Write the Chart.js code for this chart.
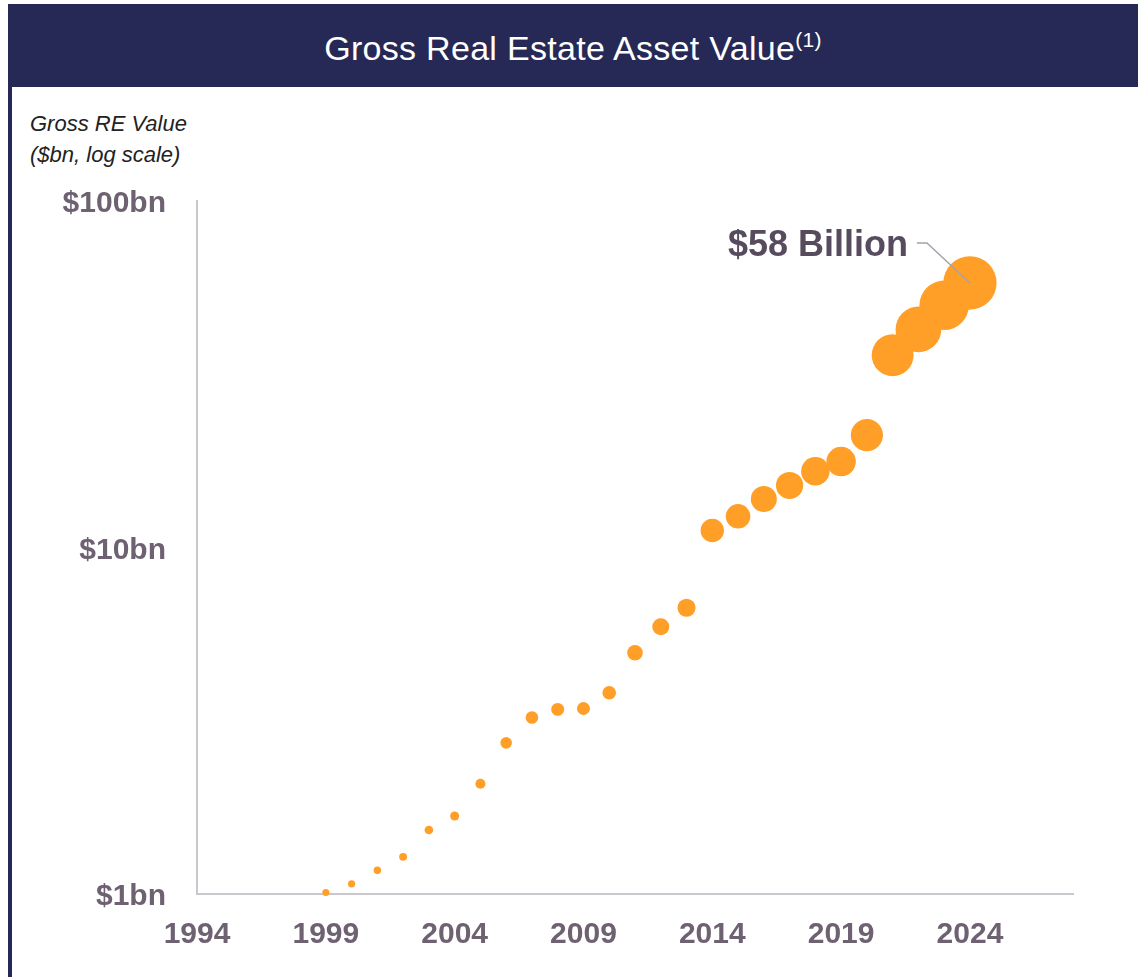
<!DOCTYPE html>
<html>
<head>
<meta charset="utf-8">
<script src="https://cdn.jsdelivr.net/npm/chart.js@4.4.1/dist/chart.umd.min.js"></script>
<style>
  body { margin: 0; width: 1138px; height: 977px; background: #fff; position: relative; overflow: hidden;
         font-family: "Liberation Sans", Arial, sans-serif; }
  #header { position: absolute; left: 8px; top: 4px; width: 1130px; height: 83px; background: #262855;
            color: #fff; font-size: 34px; text-align: center; line-height: 88px; letter-spacing: 0.3px; }
  #header sup { font-size: 21px; vertical-align: 13px; line-height: 0; }
  #leftline { position: absolute; left: 8px; top: 4px; width: 4px; height: 973px; background: #262855; }
  #ytitle { position: absolute; left: 30px; top: 108px; font-style: italic; font-size: 22px;
            line-height: 31px; color: #222; }
  #wrap { position: absolute; left: 0; top: 0; }
</style>
</head>
<body>
<div id="header">Gross Real Estate Asset Value<sup>(1)</sup></div>
<div id="leftline"></div>
<div id="ytitle">Gross RE Value<br>($bn, log scale)</div>
<div id="wrap"><canvas id="chart" width="1138" height="977"></canvas></div>
<script>
const years = [1999, 2000, 2001, 2002, 2003, 2004, 2005, 2006, 2007, 2008, 2009, 2010, 2011,
  2012, 2013, 2014, 2015, 2016, 2017, 2018, 2019, 2020, 2021, 2022, 2023, 2024];
const grossValue = [1.01, 1.07, 1.17, 1.28, 1.53, 1.68, 2.08, 2.73, 3.23, 3.41, 3.43, 3.81, 4.97,
  5.91, 6.7, 11.2, 12.3, 13.8, 15.1, 16.6, 17.7, 21.1, 35.9, 42.6, 50.0, 58.0];
const xTicks = [1994, 1999, 2004, 2009, 2014, 2019, 2024];
const yTicks = [1, 10, 100];
const calloutText = "$58 Billion";

const ctx = document.getElementById("chart").getContext("2d");
const tickFont = { family: "'Liberation Sans', Arial, sans-serif", size: 30, weight: "bold" };

// leader line + label for the latest point
const callout = {
  id: "callout",
  afterDatasetsDraw(chart) {
    const meta = chart.getDatasetMeta(0);
    const pt = meta.data[meta.data.length - 1];
    const c = chart.ctx;
    c.save();
    c.strokeStyle = "#A7A1AE";
    c.lineWidth = 1.5;
    c.beginPath();
    c.moveTo(pt.x, pt.y);
    c.lineTo(pt.x - 43, pt.y - 40);
    c.lineTo(pt.x - 53, pt.y - 40);
    c.stroke();
    c.fillStyle = "#574B5E";
    c.font = "bold 36px 'Liberation Sans', Arial, sans-serif";
    c.textAlign = "right";
    c.textBaseline = "middle";
    c.fillText(calloutText, pt.x - 62, pt.y - 37);
    c.restore();
  },
};

new Chart(ctx, {
  type: "scatter",
  data: {
    datasets: [
      {
        data: years.map((yr, i) => ({ x: yr, y: grossValue[i] })),
        backgroundColor: "#FF9F27",
        borderWidth: 0,
        pointRadius: (c) => 3.5 * Math.sqrt(c.raw.y),
        clip: false,
      },
    ],
  },
  options: {
    responsive: false,
    animation: false,
    events: [],
    layout: { padding: { top: 201, right: 65, left: 0, bottom: 0 } },
    plugins: { legend: { display: false }, tooltip: { enabled: false } },
    scales: {
      x: {
        type: "linear",
        min: 1994,
        max: 2028,
        afterBuildTicks: (s) => { s.ticks = xTicks.map((v) => ({ value: v })); },
        afterFit: (s) => { s.height = 83; },
        grid: { display: false, drawTicks: false },
        border: { color: "#CCC6CF", width: 2 },
        ticks: { font: tickFont, color: "#6E6272", padding: 23, maxRotation: 0, autoSkip: false,
                 callback: (v) => String(v) },
      },
      y: {
        type: "logarithmic",
        min: 1,
        max: 100,
        afterBuildTicks: (s) => { s.ticks = yTicks.map((v) => ({ value: v })); },
        afterFit: (s) => { s.width = 197; },
        grid: { display: false, drawTicks: false },
        border: { color: "#CCC6CF", width: 2 },
        ticks: { font: tickFont, color: "#6E6272", padding: 31, autoSkip: false, labelOffset: 3,
                 callback: (v) => "$" + v + "bn" },
      },
    },
  },
  plugins: [callout],
});
</script>
</body>
</html>
